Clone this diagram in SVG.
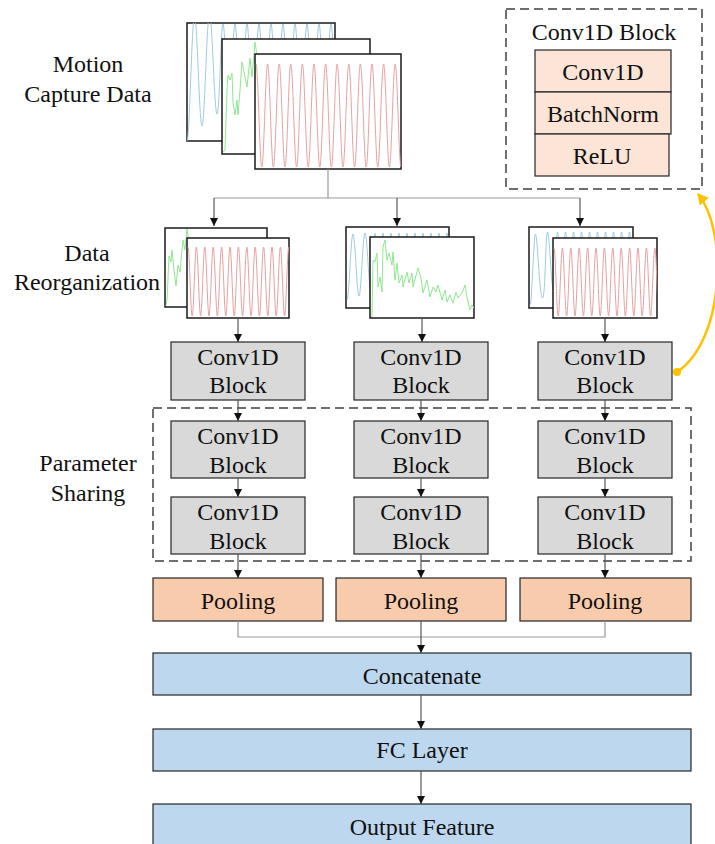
<svg xmlns="http://www.w3.org/2000/svg" width="715" height="844" viewBox="0 0 715 844">
<style>
text{font-family:"Liberation Serif","Times New Roman",serif;font-size:24px;fill:#111;text-anchor:middle}
.frame{fill:#fff;stroke:#1a1a1a;stroke-width:1.5}
.conv{fill:#d9d9d9;stroke:#262626;stroke-width:1.2}
.pool{fill:#f8cbad;stroke:#262626;stroke-width:1.2}
.blue{fill:#bdd7ee;stroke:#262626;stroke-width:1.2}
.leg{fill:#fce4d6;stroke:#262626;stroke-width:1.2}
.dash{fill:none;stroke:#404040;stroke-width:1.5;stroke-dasharray:9 5}
.wb{fill:none;stroke:#9ecae1;stroke-width:1}
.wg{fill:none;stroke:#8fe88f;stroke-width:1}
.wr{fill:none;stroke:#e8a0a0;stroke-width:1}
.ln{fill:none;stroke:#555;stroke-width:1.2}
.lg{fill:none;stroke:#999;stroke-width:1.2}
</style>
<defs>
<marker id="arr" markerUnits="userSpaceOnUse" markerWidth="9" markerHeight="9" refX="8" refY="4" orient="auto"><path d="M0,0 L8,4 L0,8 z" fill="#111"/></marker>
<marker id="oarr" markerUnits="userSpaceOnUse" markerWidth="14" markerHeight="14" refX="10" refY="6" orient="auto"><path d="M0,0 L11,6 L0,12 z" fill="#ffc000"/></marker>
<clipPath id="c1"><rect x="187" y="23" width="148" height="118"/></clipPath>
<clipPath id="c2"><rect x="222" y="39" width="148" height="115"/></clipPath>
<clipPath id="c3"><rect x="255" y="54" width="146" height="115"/></clipPath>
<clipPath id="g1b"><rect x="165" y="228" width="102" height="79"/></clipPath>
<clipPath id="g1f"><rect x="187" y="238" width="102" height="80"/></clipPath>
<clipPath id="g2b"><rect x="346" y="227" width="103" height="81"/></clipPath>
<clipPath id="g2f"><rect x="370" y="237" width="104" height="81"/></clipPath>
<clipPath id="g3b"><rect x="529" y="227" width="104" height="81"/></clipPath>
<clipPath id="g3f"><rect x="553" y="238" width="104" height="80"/></clipPath>
</defs>

<g id="labels">
<text x="88" y="72">Motion</text>
<text x="88" y="102">Capture Data</text>
<text x="87" y="261">Data</text>
<text x="87" y="290">Reorganization</text>
<text x="88" y="471">Parameter</text>
<text x="88" y="501">Sharing</text>
</g>

<g id="motion-data">
<rect class="frame" x="187" y="23" width="148" height="118"/>
<path class="wb" clip-path="url(#c1)" d="M187,141 c2.7,0 4.8,-125 7.5,-125 s4.8,110 7.5,110 s4.8,-112 7.5,-112 s4.8,100 7.5,100 s3.8,-90 6,-90 s3.8,90 6,90 s3.8,-90 6,-90 s3.8,90 6,90 s3.8,-90 6,-90 s3.8,90 6,90 s3.8,-90 6,-90 s3.8,90 6,90 s3.8,-90 6,-90 s3.8,90 6,90 s3.8,-90 6,-90 s3.8,90 6,90 s3.8,-90 6,-90 s3.8,90 6,90 s3.8,-90 6,-90 s3.8,90 6,90 s3.8,-90 6,-90 s3.8,90 6,90 s3.8,-90 6,-90 s3.8,90 6,90"/>
<rect class="frame" x="222" y="39" width="148" height="115"/>
<polyline class="wg" clip-path="url(#c2)" points="223,152 225,150 227,90 228,75 230,80 232,73 233,102 235,115 237,100 238,115 240,90 242,62 244,72 247,87 250,58 252,77 255,42 258,62 261,80 264,66 268,90 272,72 276,98 280,84 285,105 290,90 296,110 302,95 308,115 315,100 322,120 330,105 338,125 346,110 355,128 362,118 369,130"/>
<rect class="frame" x="255" y="54" width="146" height="115"/>
<path class="wr" clip-path="url(#c3)" d="M256,64 c2.1,0 3.7,103 5.8,103 s3.7,-103 5.8,-103 s3.7,103 5.8,103 s3.7,-103 5.8,-103 s3.7,103 5.8,103 s3.7,-103 5.8,-103 s3.7,103 5.8,103 s3.7,-103 5.8,-103 s3.7,103 5.8,103 s3.7,-103 5.8,-103 s3.7,103 5.8,103 s3.7,-103 5.8,-103 s3.7,103 5.8,103 s3.7,-103 5.8,-103 s3.7,103 5.8,103 s3.7,-103 5.8,-103 s3.7,103 5.8,103 s3.7,-103 5.8,-103 s3.7,103 5.8,103 s3.7,-103 5.8,-103 s3.7,103 5.8,103 s3.7,-103 5.8,-103 s3.7,103 5.8,103 s3.7,-103 5.8,-103 s3.7,103 5.8,103"/>
</g>

<g id="reorg-1">
<rect class="frame" x="165" y="228" width="102" height="79"/>
<polyline class="wg" clip-path="url(#g1b)" points="166,306 167,300 169,256 171,262 172,250 174,270 176,286 178,265 180,272 183,240 185,250 187,229 190,250 195,262 200,255 210,270 220,262 235,280 250,275 266,290"/>
<rect class="frame" x="187" y="238" width="102" height="80"/>
<path class="wr" clip-path="url(#g1f)" d="M188,247 c1.5,0 2.7,69 4.2,69 s2.7,-69 4.2,-69 s2.7,69 4.2,69 s2.7,-69 4.2,-69 s2.7,69 4.2,69 s2.7,-69 4.2,-69 s2.7,69 4.2,69 s2.7,-69 4.2,-69 s2.7,69 4.2,69 s2.7,-69 4.2,-69 s2.7,69 4.2,69 s2.7,-69 4.2,-69 s2.7,69 4.2,69 s2.7,-69 4.2,-69 s2.7,69 4.2,69 s2.7,-69 4.2,-69 s2.7,69 4.2,69 s2.7,-69 4.2,-69 s2.7,69 4.2,69 s2.7,-69 4.2,-69 s2.7,69 4.2,69 s2.7,-69 4.2,-69 s2.7,69 4.2,69 s2.7,-69 4.2,-69 s2.7,69 4.2,69"/>
</g>

<g id="reorg-2">
<rect class="frame" x="346" y="227" width="103" height="81"/>
<path class="wb" clip-path="url(#g2b)" d="M347,300 c2.2,0 3.8,-66 6,-66 s3.8,62 6,62 s3.8,-63 6,-63 s3.8,58 6,58 s2.6,-58 4,-58 s2.6,58 4,58 s2.6,-58 4,-58 s2.6,58 4,58 s2.6,-58 4,-58 s2.6,58 4,58 s2.6,-58 4,-58 s2.6,58 4,58 s2.6,-58 4,-58 s2.6,58 4,58 s2.6,-58 4,-58 s2.6,58 4,58 s2.6,-58 4,-58 s2.6,58 4,58 s2.6,-58 4,-58 s2.6,58 4,58 s2.6,-58 4,-58 s2.6,58 4,58 s2.6,-58 4,-58 s2.6,58 4,58"/>
<rect class="frame" x="370" y="237" width="104" height="81"/>
<polyline class="wg" clip-path="url(#g2f)" points="372,317 373,260 375,262 377,253 378,287 380,277 382,292 383,247 385,240 387,260 389,253 392,265 393,252 395,280 397,263 399,283 402,275 403,287 407,272 409,283 412,273 413,287 418,268 421,278 423,293 427,280 430,297 433,287 436,292 438,285 442,300 445,290 447,302 450,295 453,303 456,292 458,298 462,293 465,285 467,297 470,310 472,305 474,308"/>
</g>

<g id="reorg-3">
<rect class="frame" x="529" y="227" width="104" height="81"/>
<path class="wb" clip-path="url(#g3b)" d="M530,305 c2,0 3.6,-71 5.5,-71 s4,64 7,64 s3,-66 5,-66 s3.8,58 6,58 s2.6,-58 4,-58 s2.6,58 4,58 s2.6,-58 4,-58 s2.6,58 4,58 s2.6,-58 4,-58 s2.6,58 4,58 s2.6,-58 4,-58 s2.6,58 4,58 s2.6,-58 4,-58 s2.6,58 4,58 s2.6,-58 4,-58 s2.6,58 4,58 s2.6,-58 4,-58 s2.6,58 4,58 s2.6,-58 4,-58 s2.6,58 4,58 s2.6,-58 4,-58 s2.6,58 4,58 s2.6,-58 4,-58 s2.6,58 4,58"/>
<rect class="frame" x="553" y="238" width="104" height="80"/>
<path class="wr" clip-path="url(#g3f)" d="M554,248 c1.5,0 2.7,68 4.2,68 s2.7,-68 4.2,-68 s2.7,68 4.2,68 s2.7,-68 4.2,-68 s2.7,68 4.2,68 s2.7,-68 4.2,-68 s2.7,68 4.2,68 s2.7,-68 4.2,-68 s2.7,68 4.2,68 s2.7,-68 4.2,-68 s2.7,68 4.2,68 s2.7,-68 4.2,-68 s2.7,68 4.2,68 s2.7,-68 4.2,-68 s2.7,68 4.2,68 s2.7,-68 4.2,-68 s2.7,68 4.2,68 s2.7,-68 4.2,-68 s2.7,68 4.2,68 s2.7,-68 4.2,-68 s2.7,68 4.2,68 s2.7,-68 4.2,-68 s2.7,68 4.2,68 s2.7,-68 4.2,-68 s2.7,68 4.2,68"/>
</g>

<g id="param-sharing"><rect class="dash" x="153" y="408" width="538" height="153"/></g>

<g id="conv-1-1"><rect class="conv" x="171" y="342" width="134" height="58"/><text x="238" y="365">Conv1D</text><text x="238" y="393">Block</text></g>
<g id="conv-2-1"><rect class="conv" x="354" y="342" width="134" height="58"/><text x="421" y="365">Conv1D</text><text x="421" y="393">Block</text></g>
<g id="conv-3-1"><rect class="conv" x="538" y="342" width="134" height="58"/><text x="605" y="365">Conv1D</text><text x="605" y="393">Block</text></g>
<g id="conv-1-2"><rect class="conv" x="171" y="421" width="134" height="57"/><text x="238" y="444">Conv1D</text><text x="238" y="473">Block</text></g>
<g id="conv-2-2"><rect class="conv" x="354" y="421" width="134" height="57"/><text x="421" y="444">Conv1D</text><text x="421" y="473">Block</text></g>
<g id="conv-3-2"><rect class="conv" x="538" y="421" width="134" height="57"/><text x="605" y="444">Conv1D</text><text x="605" y="473">Block</text></g>
<g id="conv-1-3"><rect class="conv" x="171" y="497" width="134" height="57"/><text x="238" y="520">Conv1D</text><text x="238" y="549">Block</text></g>
<g id="conv-2-3"><rect class="conv" x="354" y="497" width="134" height="57"/><text x="421" y="520">Conv1D</text><text x="421" y="549">Block</text></g>
<g id="conv-3-3"><rect class="conv" x="538" y="497" width="134" height="57"/><text x="605" y="520">Conv1D</text><text x="605" y="549">Block</text></g>

<g id="pool-1"><rect class="pool" x="153" y="578" width="170" height="43"/><text x="238" y="609">Pooling</text></g>
<g id="pool-2"><rect class="pool" x="336" y="578" width="170" height="43"/><text x="421" y="609">Pooling</text></g>
<g id="pool-3"><rect class="pool" x="520" y="578" width="171" height="43"/><text x="605" y="609">Pooling</text></g>

<g id="concatenate"><rect class="blue" x="153" y="653" width="538" height="42"/><text x="422" y="684">Concatenate</text></g>
<g id="fc-layer"><rect class="blue" x="153" y="729" width="538" height="42"/><text x="422" y="758">FC Layer</text></g>
<g id="output-feature"><rect class="blue" x="153" y="804" width="538" height="46"/><text x="422" y="835">Output Feature</text></g>

<g id="conv1d-block-legend">
<rect class="dash" x="506" y="9" width="196" height="180"/>
<text x="604" y="40">Conv1D Block</text>
<rect class="leg" x="535" y="50" width="136" height="42"/><text x="603" y="80">Conv1D</text>
<rect class="leg" x="535" y="92" width="136" height="42"/><text x="603" y="122">BatchNorm</text>
<rect class="leg" x="535" y="134" width="134" height="42"/><text x="602" y="164">ReLU</text>
</g>

<g id="connectors">
<path class="lg" d="M328,169 V198 M214,198 H580"/>
<path class="ln" d="M214,198 V226" marker-end="url(#arr)"/>
<path class="ln" d="M397,198 V226" marker-end="url(#arr)"/>
<path class="ln" d="M580,198 V226" marker-end="url(#arr)"/>
<path class="ln" d="M238,318 V342" marker-end="url(#arr)"/>
<path class="ln" d="M422,318 V342" marker-end="url(#arr)"/>
<path class="ln" d="M605,318 V342" marker-end="url(#arr)"/>
<path class="ln" d="M238,400 V421" marker-end="url(#arr)"/>
<path class="ln" d="M421,400 V421" marker-end="url(#arr)"/>
<path class="ln" d="M605,400 V421" marker-end="url(#arr)"/>
<path class="ln" d="M238,478 V497" marker-end="url(#arr)"/>
<path class="ln" d="M421,478 V497" marker-end="url(#arr)"/>
<path class="ln" d="M605,478 V497" marker-end="url(#arr)"/>
<path class="ln" d="M238,554 V578" marker-end="url(#arr)"/>
<path class="ln" d="M421,554 V578" marker-end="url(#arr)"/>
<path class="ln" d="M605,554 V578" marker-end="url(#arr)"/>
<path class="lg" d="M238,621 V637 H605 V621"/>
<path class="ln" d="M421,621 V653" marker-end="url(#arr)"/>
<path class="ln" d="M421,695 V729" marker-end="url(#arr)"/>
<path class="ln" d="M421,771 V804" marker-end="url(#arr)"/>
<path d="M677,372 C725,340 728,230 698,194" fill="none" stroke="#ffc000" stroke-width="2.5" marker-end="url(#oarr)"/>
<circle cx="677" cy="372" r="4" fill="#ffc000"/>
</g>
</svg>
